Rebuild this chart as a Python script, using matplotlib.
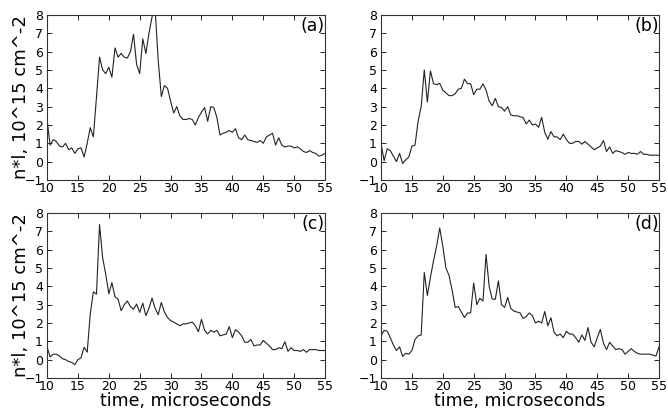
import numpy as np
import matplotlib

matplotlib.use("Agg")
import matplotlib.pyplot as plt

# time axis, microseconds (0.5 us steps, 10..55)
time_us = np.arange(10.0, 55.01, 0.5)

# column density n*l, 10^15 cm^-2
panel_a = [2.3, 0.9, 1.2, 1.1, 0.85, 0.8, 1.0, 0.65, 0.75, 0.45,
           0.7, 0.75, 0.25, 1.0, 1.85, 1.35, 3.5, 5.7, 5.0, 4.8,
           5.15, 4.6, 6.2, 5.7, 5.9, 5.7, 5.65, 6.0, 6.95, 5.3,
           4.8, 6.7, 5.9, 7.0, 7.9, 8.3, 5.5, 3.55, 4.15, 4.0,
           3.3, 2.65, 3.0, 2.5, 2.3, 2.3, 2.35, 2.3, 2.0, 2.4,
           2.7, 2.95, 2.2, 3.0, 2.95, 2.4, 1.45, 1.55, 1.6, 1.7,
           1.6, 1.8, 1.3, 1.2, 1.45, 1.2, 1.15, 1.1, 1.05, 1.15,
           1.0, 1.35, 1.45, 1.55, 0.9, 1.3, 0.9, 0.8, 0.85, 0.85,
           0.75, 0.8, 0.7, 0.55, 0.5, 0.6, 0.5, 0.45, 0.3, 0.35,
           0.45]
panel_b = [1.0, 0.05, 0.7, 0.6, 0.3, 0.0, 0.45, -0.1, 0.1, 0.25,
           0.85, 0.9, 2.2, 3.0, 5.0, 3.25, 4.95, 4.25, 4.2, 4.27,
           3.9, 3.75, 3.6, 3.6, 3.7, 3.95, 4.0, 4.5, 4.25, 4.25,
           3.65, 3.95, 3.95, 4.24, 3.9, 3.3, 3.05, 3.45, 3.0, 2.95,
           2.75, 3.0, 2.55, 2.5, 2.5, 2.45, 2.4, 2.05, 2.27, 2.0,
           2.05, 1.87, 2.42, 1.6, 1.22, 1.64, 1.35, 1.35, 1.2, 1.5,
           1.2, 1.0, 1.0, 1.1, 1.1, 0.95, 1.1, 0.95, 0.8, 0.65,
           0.75, 0.85, 1.15, 0.55, 0.8, 0.45, 0.6, 0.55, 0.5, 0.4,
           0.5, 0.45, 0.45, 0.4, 0.55, 0.4, 0.4, 0.35, 0.35, 0.35,
           0.35]
panel_c = [0.7, 0.15, 0.3, 0.3, 0.2, 0.05, 0.0, -0.1, -0.15, -0.27,
           0.0, 0.1, 0.68, 0.41, 2.5, 3.7, 3.57, 7.37, 5.56, 4.66,
           3.6, 4.2, 3.43, 3.3, 2.67, 3.0, 3.2, 2.9, 2.75, 3.03,
           2.58, 3.08, 2.4, 2.8, 3.36, 2.8, 2.45, 3.12, 2.6, 2.3,
           2.13, 2.05, 1.95, 1.85, 1.95, 1.95, 2.0, 2.05, 1.85, 1.52,
           2.2, 1.6, 1.4, 1.6, 1.5, 1.6, 1.3, 1.35, 1.4, 1.8,
           1.2, 1.64, 1.5, 1.3, 0.95, 0.95, 1.1, 0.75, 0.8, 0.8,
           1.05, 0.9, 0.75, 0.55, 0.55, 0.65, 0.6, 0.98, 0.45, 0.65,
           0.5, 0.5, 0.45, 0.55, 0.4, 0.55, 0.55, 0.55, 0.5, 0.5,
           0.5]
panel_d = [1.3, 1.6, 1.55, 1.2, 0.8, 0.5, 0.7, 0.17, 0.35, 0.3,
           0.5, 1.1, 1.3, 1.35, 4.75, 3.5, 4.5, 5.4, 6.2, 7.18,
           6.2, 5.0, 4.6, 3.8, 2.85, 2.9, 2.6, 2.3, 2.55, 2.55,
           4.18, 3.0, 3.35, 3.2, 5.74, 4.0, 3.3, 3.3, 4.3, 3.0,
           2.85, 3.4, 2.8, 2.65, 2.6, 2.55, 2.25, 2.35, 2.55, 2.4,
           2.0, 2.1, 2.0, 2.63, 1.85, 2.29, 1.5, 1.3, 1.4, 1.2,
           1.55, 1.4, 1.4, 1.2, 0.95, 1.35, 1.05, 1.75, 0.95, 0.7,
           1.2, 1.65, 0.9, 0.55, 0.95, 0.75, 0.55, 0.6, 0.55, 0.3,
           0.45, 0.6, 0.45, 0.35, 0.3, 0.3, 0.3, 0.3, 0.25, 0.2,
           0.7]

panels = [("(a)", panel_a), ("(b)", panel_b), ("(c)", panel_c), ("(d)", panel_d)]

x_ticks = list(range(10, 56, 5))
y_ticks = list(range(-1, 9))

plt.rcParams["font.family"] = "DejaVu Sans"

fig = plt.figure(figsize=(6.68, 4.09), dpi=100)
fig.patch.set_facecolor("white")

# axes boxes in figure fraction
lefts = [0.0704, 0.5704]
bottoms = [0.5600, 0.0758]
w, h = 0.4162, 0.4034

for i, (tag, vals) in enumerate(panels):
    row, col = divmod(i, 2)
    ax = fig.add_axes([lefts[col], bottoms[row], w, h])
    ax.plot(time_us, vals, color="#222222", lw=0.8)
    ax.set_xlim(10, 55)
    ax.set_ylim(-1, 8)
    ax.set_xticks(x_ticks)
    ax.set_yticks(y_ticks)
    ax.tick_params(direction="in", top=True, right=True, length=3.5,
                   width=0.6, labelsize=9)
    ax.tick_params(axis="x", pad=1.5)
    ax.tick_params(axis="y", pad=3)
    for sp in ax.spines.values():
        sp.set_linewidth(0.8)
        sp.set_color("#333333")
    ax.text(1.0, 0.985, tag, transform=ax.transAxes, ha="right", va="top",
            fontsize=12.5)
    if col == 0:
        ax.set_ylabel("n*l, 10^15 cm^-2", fontsize=13, va="center")
        ax.yaxis.set_label_coords(-0.092, 0.5)
    if row == 1:
        ax.set_xlabel("time, microseconds", fontsize=12.5, labelpad=-0.5)

fig.savefig("out.png", dpi=100)
